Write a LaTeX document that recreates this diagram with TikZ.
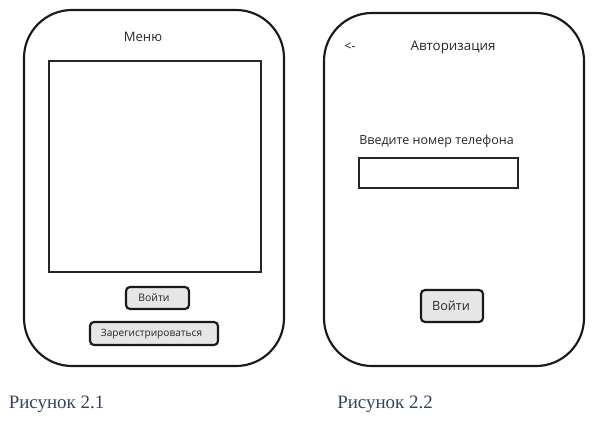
\documentclass[tikz,border=0pt]{standalone}
\usepackage{fontspec}
\setmainfont{Open Sans}
\newfontfamily\capfont{Liberation Serif}
\definecolor{uitext}{HTML}{262626}
\definecolor{btnfill}{HTML}{E6E6E6}
\definecolor{capcol}{HTML}{34445E}
\tikzset{
  phone/.style={draw=black!90, line width=1.6pt, rounded corners=36pt},
  screen/.style={draw=black!85, line width=2pt},
  btn/.style={draw=black!90, fill=btnfill, line width=1.6pt, rounded corners=3pt},
  uilabel/.style={text=uitext, inner sep=0pt, anchor=center},
  caption/.style={text=capcol, inner sep=0pt, anchor=west, font=\capfont\fontsize{14.2pt}{16pt}\selectfont}
}
\begin{document}
\begin{tikzpicture}[x=0.75pt, y=-0.75pt]
\useasboundingbox (0,0) rectangle (598,421);
% ---- Figure 2.1 ----
\draw[phone] (24,10) rectangle (284,366);
\node[uilabel, font=\fontsize{9.8pt}{11pt}\selectfont] (menu) at (143,37) {Меню};
\draw[screen] (49,61) rectangle (261,272);
\node[btn, minimum width=47.25pt, minimum height=16.5pt, inner sep=0pt] (login1) at (157.5,298) {};
\node[uilabel, font=\fontsize{7.8pt}{9pt}\selectfont] (login1t) at (154,297.5) {Войти};
\node[btn, minimum width=96pt, minimum height=17.25pt, inner sep=0pt] (reg) at (154,333.5) {};
\node[uilabel, font=\fontsize{7.6pt}{9pt}\selectfont] (regt) at (151.5,334) {Зарегистрироваться};
\node[caption] (cap1) at (8.5,404.5) {Рисунок 2.1};
% ---- Figure 2.2 ----
\draw[phone] (324,13) rectangle (584,366);
\node[uilabel, font=\fontsize{9.5pt}{10pt}\selectfont] (back) at (350,47) {<-};
\node[uilabel, font=\fontsize{10pt}{12pt}\selectfont] (auth) at (453,47) {Авторизация};
\node[uilabel, anchor=west, font=\fontsize{9.4pt}{11pt}\selectfont] (prompt) at (359,141) {Введите номер телефона};
\draw[screen] (359,158) rectangle (518,188);
\node[btn, minimum width=46.5pt, minimum height=24pt, inner sep=0pt] (login2) at (452,306) {};
\node[uilabel, font=\fontsize{9.5pt}{11pt}\selectfont] (login2t) at (451,305.5) {Войти};
\node[caption] (cap2) at (337,404.5) {Рисунок 2.2};
\end{tikzpicture}
\end{document}
